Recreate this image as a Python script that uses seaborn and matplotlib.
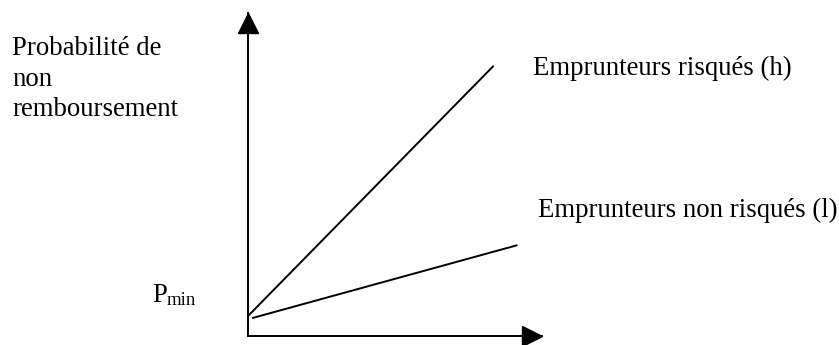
import pandas as pd
import matplotlib.pyplot as plt
import matplotlib.transforms as mtransforms
import seaborn as sns

# line end points in axis units (origin = axis corner, axes span 0..10)
risky_x = [0.0, 8.35]
risky_y = [0.6, 8.35]
safe_x = [0.17, 9.15]
safe_y = [0.55, 2.8]

y_label_lines = ["Probabilité de", "non", "remboursement"]
risky_label = "Emprunteurs risqués (h)"
safe_label = "Emprunteurs non risqués (l)"

W, H = 839, 345

sns.set_theme(style="white")
plt.rcParams['font.family'] = ['Liberation Serif', 'DejaVu Serif']

fig = plt.figure(figsize=(W / 100, H / 100), dpi=100)
# axes from the corner (247.7, 335.7) to the arrow tips (541.7, 13) in pixels
ax = fig.add_axes([247.7 / W, (H - 335.7) / H, (541.7 - 247.7) / W, (335.7 - 13) / H])
ax.patch.set_alpha(0)

df = pd.concat([
    pd.DataFrame({"x": risky_x, "y": risky_y, "group": "h"}),
    pd.DataFrame({"x": safe_x, "y": safe_y, "group": "l"}),
])
sns.lineplot(data=df, x="x", y="y", units="group", estimator=None,
             color="black", linewidth=1.4, ax=ax, legend=False)

ax.set_xlim(0, 10)
ax.set_ylim(0, 10)
ax.set_xticks([])
ax.set_yticks([])
ax.set_xlabel("")
ax.set_ylabel("")
sns.despine(ax=ax)
for side in ["left", "bottom"]:
    ax.spines[side].set_color("black")
    ax.spines[side].set_linewidth(1.4)

# arrow heads
up = mtransforms.offset_copy(ax.transAxes, fig=fig, x=0, y=-10, units="dots")
right = mtransforms.offset_copy(ax.transAxes, fig=fig, x=-10, y=0, units="dots")
ax.plot([0], [1], marker="^", ms=14.4, color="black", transform=up, clip_on=False)
ax.plot([1], [0], marker=">", ms=14.4, color="black", transform=right, clip_on=False)

def put(text, px, py, size=19.3):
    fig.text(px / W, 1 - py / H, text, fontsize=size, va="baseline", ha="left", color="black")

for i, line in enumerate(y_label_lines):
    put(line, 12, 55 + 30.5 * i)

put(risky_label, 533, 75)
put(safe_label, 537.5, 216.7)
put("P", 152.3, 301.7)
put("min", 167, 305, size=13.5)

fig.savefig("out.png", dpi=100)
